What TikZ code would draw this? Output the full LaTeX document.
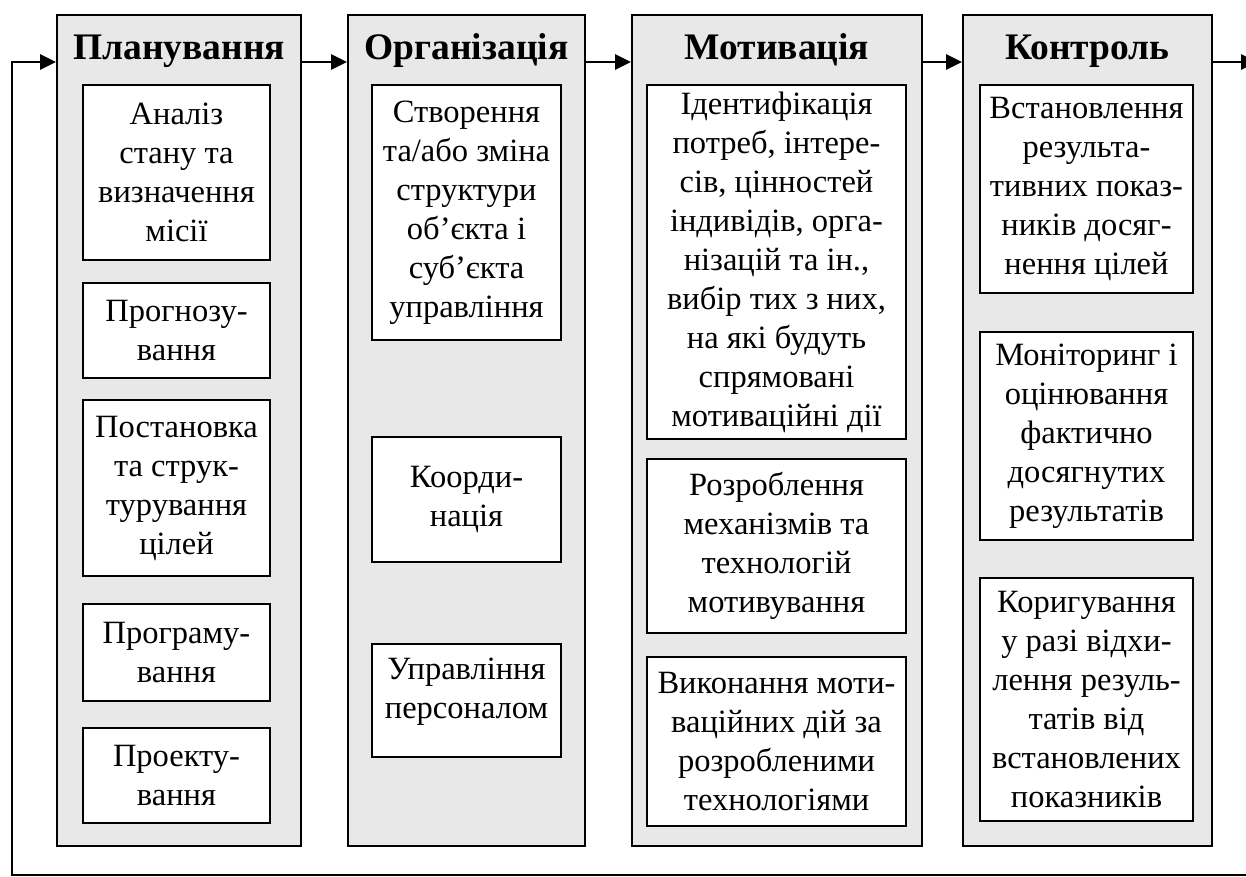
\documentclass[tikz,border=0pt]{standalone}
\usepackage{fontspec}
\setmainfont{Liberation Serif}
\usetikzlibrary{arrows.meta}
\begin{document}
\begin{tikzpicture}[x=1pt,y=-1pt,
  outbox/.style={draw=black,line width=1.8pt,fill=gray!18,inner sep=0pt},
  inbox/.style={draw=black,line width=1.8pt,fill=white,inner sep=0pt,align=center,
    font=\fontsize{32.5}{39}\selectfont},
  ttl/.style={anchor=base,font=\bfseries\fontsize{37.5}{40}\selectfont},
  arr/.style={line width=2.6pt,-{Triangle[length=16pt,width=15pt]}}]
\useasboundingbox (0,0) rectangle (1246,877);
% outer columns
\node[outbox,minimum width=244pt,minimum height=831pt] (c1) at (179,430.5) {};
\node[outbox,minimum width=237pt,minimum height=831pt] (c2) at (466.5,430.5) {};
\node[outbox,minimum width=290pt,minimum height=831pt] (c3) at (777,430.5) {};
\node[outbox,minimum width=249pt,minimum height=831pt] (c4) at (1087.5,430.5) {};
% titles
\node[ttl] (t1) at (179,60) {Планування};
\node[ttl] (t2) at (466.5,60) {Організація};
\node[ttl] (t3) at (777,60) {Мотивація};
\node[ttl] (t4) at (1087.5,60) {Контроль};
% column 1
\node[inbox,minimum width=187pt,minimum height=175pt] (p1) at (176.5,172.5) {Аналіз\\стану та\\визначення\\місії};
\node[inbox,minimum width=187pt,minimum height=95pt] (p2) at (176.5,330.5) {Прогнозу-\\вання};
\node[inbox,minimum width=187pt,minimum height=176pt] (p3) at (176.5,488) {Постановка\\та струк-\\турування\\цілей};
\node[inbox,minimum width=187pt,minimum height=97pt] (p4) at (176.5,652.5) {Програму-\\вання};
\node[inbox,minimum width=187pt,minimum height=95pt] (p5) at (176.5,775.5) {Проекту-\\вання};
% column 2
\node[inbox,minimum width=189pt,minimum height=255pt] (o1) at (466.5,212.5) {Створення\\та/або зміна\\структури\\об’єкта і\\суб’єкта\\управління};
\node[inbox,minimum width=189pt,minimum height=125pt] (o2) at (466.5,499.5) {Коорди-\\нація};
\node[inbox,minimum width=189pt,minimum height=113pt] (o3) at (466.5,700.5) {Управління\\персоналом\\[-14pt]\mbox{}};
% column 3
\node[inbox,minimum width=259pt,minimum height=354pt] (m1) at (776.5,262) {Ідентифікація\\потреб, інтере-\\сів, цінностей\\індивідів, орга-\\нізацій та ін.,\\вибір тих з них,\\на які будуть\\спрямовані\\мотиваційні дії};
\node[inbox,minimum width=259pt,minimum height=174pt] (m2) at (776.5,546) {Розроблення\\механізмів та\\технологій\\мотивування};
\node[inbox,minimum width=259pt,minimum height=169pt] (m3) at (776.5,741.5) {Виконання моти-\\ваційних дій за\\розробленими\\технологіями};
% column 4
\node[inbox,minimum width=213pt,minimum height=208pt] (k1) at (1086.5,189) {Встановлення\\результа-\\тивних показ-\\ників досяг-\\нення цілей};
\node[inbox,minimum width=213pt,minimum height=208pt] (k2) at (1086.5,436) {Моніторинг і\\оцінювання\\фактично\\досягнутих\\результатів};
\node[inbox,minimum width=213pt,minimum height=243pt] (k3) at (1086.5,699.5) {Коригування\\у разі відхи-\\лення резуль-\\татів від\\встановлених\\показників};
% connectors
\coordinate (ay) at (0,62);
\coordinate (rend) at (1257,62);
\coordinate (lb) at (12,875);
\coordinate (rb) at (1250,875);
\draw[arr] (c1.east |- ay) -- (c2.west |- ay);
\draw[arr] (c2.east |- ay) -- (c3.west |- ay);
\draw[arr] (c3.east |- ay) -- (c4.west |- ay);
\draw[arr] (c4.east |- ay) -- (rend);
\draw[arr] (rb) -- (lb) -- (lb |- ay) -- (c1.west |- ay);
\end{tikzpicture}
\end{document}
